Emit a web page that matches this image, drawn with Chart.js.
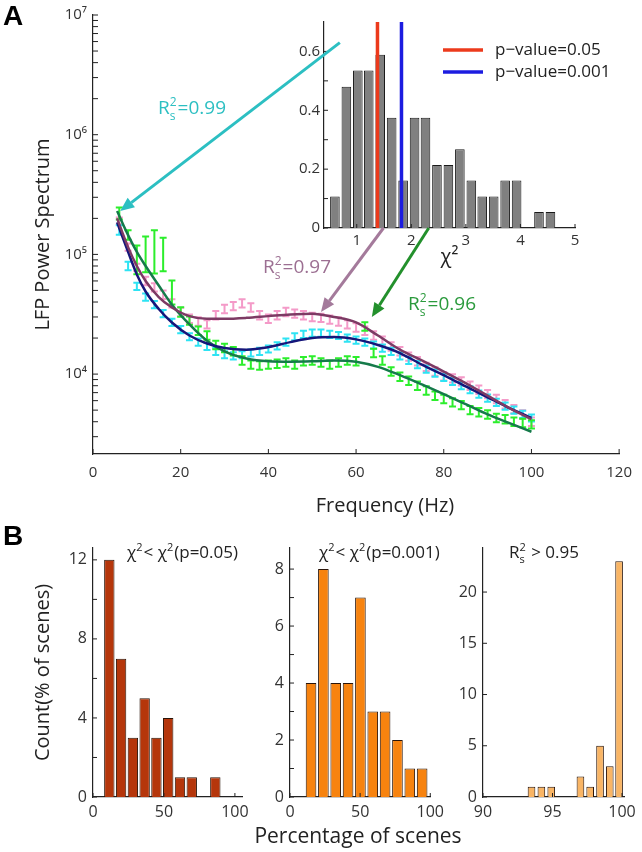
<!DOCTYPE html>
<html>
<head>
<meta charset="utf-8">
<script src="https://cdn.jsdelivr.net/npm/chart.js@4.4.1/dist/chart.umd.min.js"></script>
<style>
html, body { margin: 0; padding: 0; background: #fff; }
#wrap { position: relative; width: 642px; height: 852px; overflow: hidden; }
canvas { position: absolute; }
</style>
</head>
<body>
<div id="wrap">
<canvas id="main" width="642" height="520" style="left:0px;top:0px"></canvas>
<canvas id="inset" width="642" height="520" style="left:0px;top:0px"></canvas>
<canvas id="b1" width="642" height="332" style="left:0px;top:520px"></canvas>
<canvas id="b2" width="200" height="332" style="left:250px;top:520px"></canvas>
<canvas id="b3" width="192" height="332" style="left:450px;top:520px"></canvas>
</div>
<script>
const FONT = "'Open Sans', 'DejaVu Sans', sans-serif";
Chart.defaults.font.family = FONT;
Chart.defaults.color = '#333';
Chart.defaults.plugins.legend.display = false;
Chart.defaults.plugins.tooltip.enabled = false;

// ---- panel A: LFP spectra (power vs frequency) ----
const freqs = [6, 8, 10, 12, 14, 16, 18, 20, 22, 24, 26, 28, 30, 32, 34, 36, 38, 40, 42, 44, 46, 48, 50, 52,
  54, 56, 58, 60, 62, 64, 66, 68, 70, 72, 74, 76, 78, 80, 82, 84, 86, 88, 90, 92, 94, 96, 98, 100];
const pinkPower = [1.9e5, 1.15e5, 7.8e4, 6.0e4, 5.3e4, 4.6e4, 3.9e4, 3.3e4, 2.9e4, 2.75e4, 2.6e4, 3.1e4,
  3.5e4, 3.7e4, 3.9e4, 3.6e4, 3.1e4, 2.9e4, 3.1e4, 3.3e4, 3.2e4, 3.1e4, 3.0e4, 2.95e4,
  2.85e4, 2.75e4, 2.6e4, 2.45e4, 2.3e4, 2.1e4, 1.9e4, 1.7e4, 1.55e4, 1.4e4, 1.28e4, 1.15e4,
  1.05e4, 9.6e3, 9.2e3, 8.7e3, 8.0e3, 7.4e3, 6.8e3, 6.2e3, 5.6e3, 5.1e3, 4.6e3, 4.0e3];
const cyanPower = [1.6e5, 8.0e4, 5.4e4, 4.4e4, 3.8e4, 3.2e4, 2.7e4, 2.35e4, 2.05e4, 1.85e4, 1.7e4, 1.55e4,
  1.45e4, 1.42e4, 1.45e4, 1.5e4, 1.55e4, 1.62e4, 1.72e4, 1.85e4, 2.05e4, 2.15e4, 2.2e4, 2.2e4,
  2.15e4, 2.1e4, 2.0e4, 1.92e4, 1.85e4, 1.75e4, 1.65e4, 1.55e4, 1.42e4, 1.3e4, 1.2e4, 1.1e4,
  1.02e4, 9.4e3, 8.7e3, 8.0e3, 7.4e3, 6.8e3, 6.3e3, 5.8e3, 5.4e3, 5.0e3, 4.6e3, 4.3e3];
const greenPower = [2.2e5, 1.45e5, 9.0e4, 1.0e5, 1.05e5, 1.0e5, 4.8e4, 3.3e4, 2.8e4, 2.3e4, 2.1e4, 1.75e4,
  1.65e4, 1.55e4, 1.3e4, 1.2e4, 1.18e4, 1.2e4, 1.22e4, 1.25e4, 1.2e4, 1.28e4, 1.3e4, 1.25e4,
  1.2e4, 1.25e4, 1.3e4, 1.28e4, 2.5e4, 1.5e4, 1.3e4, 1.05e4, 9.5e3, 8.8e3, 8.0e3, 7.3e3,
  6.6e3, 6.2e3, 5.8e3, 5.5e3, 5.0e3, 4.8e3, 4.6e3, 4.3e3, 4.2e3, 4.0e3, 3.9e3, 3.8e3];
// half height of the error bars, in decades
const pinkErr = [0.03, 0.03, 0.03, 0.035, 0.035, 0.035, 0.035, 0.035, 0.035, 0.035, 0.035, 0.035,
  0.035, 0.035, 0.035, 0.035, 0.035, 0.035, 0.035, 0.035, 0.035, 0.035, 0.035, 0.035,
  0.035, 0.035, 0.035, 0.035, 0.035, 0.035, 0.035, 0.035, 0.035, 0.035, 0.035, 0.035,
  0.035, 0.035, 0.035, 0.035, 0.035, 0.035, 0.035, 0.035, 0.035, 0.035, 0.035, 0.035];
const cyanErr = [0.04, 0.035, 0.03, 0.03, 0.03, 0.03, 0.03, 0.03, 0.03, 0.03, 0.03, 0.03,
  0.03, 0.03, 0.03, 0.03, 0.03, 0.03, 0.03, 0.03, 0.03, 0.03, 0.03, 0.03,
  0.03, 0.03, 0.03, 0.03, 0.03, 0.03, 0.03, 0.03, 0.03, 0.03, 0.03, 0.03,
  0.03, 0.03, 0.03, 0.03, 0.03, 0.03, 0.03, 0.03, 0.03, 0.03, 0.03, 0.03];
const greenErr = [0.05, 0.04, 0.12, 0.15, 0.18, 0.14, 0.1, 0.04, 0.035, 0.035, 0.035, 0.035,
  0.035, 0.035, 0.035, 0.035, 0.035, 0.035, 0.035, 0.035, 0.035, 0.035, 0.035, 0.035,
  0.035, 0.035, 0.035, 0.035, 0.035, 0.035, 0.035, 0.035, 0.035, 0.035, 0.035, 0.035,
  0.035, 0.035, 0.035, 0.035, 0.035, 0.035, 0.035, 0.035, 0.035, 0.035, 0.035, 0.035];
// fitted curves
const fitFreqs = [5.5, 8, 10, 12, 15, 18, 22, 26, 30, 35, 40, 45, 50, 55, 60, 65, 70, 75, 80, 85, 90, 95, 100];
const pinkFit = [2.0e5, 1.15e5, 8.0e4, 6.0e4, 4.4e4, 3.6e4, 3.05e4, 2.9e4, 2.9e4, 2.95e4, 3.05e4, 3.15e4,
  3.2e4, 3.0e4, 2.7e4, 2.1e4, 1.6e4, 1.3e4, 1.05e4, 8.4e3, 6.6e3, 5.2e3, 4.2e3];
const cyanFit = [1.85e5, 1.05e5, 6.8e4, 4.9e4, 3.5e4, 2.7e4, 2.1e4, 1.8e4, 1.65e4, 1.6e4, 1.68e4, 1.85e4,
  2.0e4, 2.04e4, 1.95e4, 1.75e4, 1.5e4, 1.2e4, 9.8e3, 7.9e3, 6.4e3, 5.2e3, 4.3e3];
const greenFit = [2.3e5, 1.45e5, 1.05e5, 8.0e4, 5.5e4, 3.8e4, 2.6e4, 1.9e4, 1.55e4, 1.35e4, 1.28e4, 1.27e4,
  1.28e4, 1.3e4, 1.27e4, 1.15e4, 9.8e3, 8.2e3, 6.8e3, 5.6e3, 4.6e3, 3.9e3, 3.3e3];
const freqTicks = [0, 20, 40, 60, 80, 100, 120];
const powerTicks = [1e4, 1e5, 1e6, 1e7];
const powerTickLabels = ['10\u2074', '10\u2075', '10\u2076', '10\u2077'];

// ---- inset: chi-square histogram ----
const chiBins = [0.60, 0.81, 1.02, 1.22, 1.43, 1.64, 1.85, 2.06, 2.26, 2.47, 2.68, 2.89, 3.10, 3.30,
  3.51, 3.72, 3.93, 4.14, 4.34, 4.55];
const chiDensity = [0.107, 0.48, 0.535, 0.535, 0.589, 0.375, 0.161, 0.375, 0.375, 0.214, 0.214, 0.268,
  0.161, 0.107, 0.107, 0.161, 0.161, 0, 0.054, 0.054];
const chiCrit05 = 1.38;
const chiCrit001 = 1.82;
const chiTicks = [1, 2, 3, 4, 5];
const densityTicks = [0, 0.1, 0.2, 0.3, 0.4, 0.5, 0.6];
const densityLabels = ['0', '', '0.2', '', '0.4', '', '0.6'];

// arrows: tail on the inset (chi2, density), tip on the spectrum (Hz, power)
const arrowTails = [[0.69, 0.63], [1.49, 0], [2.32, 0]];
const arrowTips = [[6.2, 2.3e5], [52, 3.3e4], [63.6, 3.0e4]];
const arrowColors = ['#2cbfc2', '#a47a9b', '#23902c'];
const fitR2 = ['0.99', '0.97', '0.96'];

// ---- panel B ----
const pct05Bins = [11.5, 19.8, 28.1, 36.4, 44.7, 53.0, 61.3, 69.6, 77.9, 86.2];
const pct05Counts = [12, 7, 3, 5, 3, 4, 1, 1, 0, 1];
const pct001Bins = [15.0, 23.8, 32.6, 41.4, 50.2, 59.0, 67.8, 76.6, 85.4, 94.2];
const pct001Counts = [4, 8, 4, 4, 7, 3, 3, 2, 1, 1];
const r2Bins = [93.49, 94.20, 94.91, 95.60, 96.30, 97.01, 97.71, 98.42, 99.12, 99.79];
const r2Counts = [1, 1, 1, 0, 0, 2, 1, 5, 3, 23];

function drawRich(ctx, parts, x, y, size, color) {
  ctx.save();
  ctx.fillStyle = color;
  ctx.textAlign = 'left';
  ctx.textBaseline = 'alphabetic';
  let cx = x;
  parts.forEach(p => {
    if (typeof p === 'string') {
      ctx.font = size + 'px ' + FONT;
      ctx.fillText(p, cx, y);
      cx += ctx.measureText(p).width;
    } else {
      ctx.font = Math.round(size * 0.62) + 'px ' + FONT;
      let w = 0;
      if (p.sup) { ctx.fillText(p.sup, cx, y - size * 0.42); w = ctx.measureText(p.sup).width; }
      if (p.sub) { ctx.fillText(p.sub, cx, y + size * 0.32); w = Math.max(w, ctx.measureText(p.sub).width); }
      cx += w + 1;
    }
  });
  ctx.restore();
}

function drawArrow(ctx, x1, y1, x2, y2, color) {
  const ang = Math.atan2(y2 - y1, x2 - x1), head = 14, hw = 6;
  const bx = x2 - head * Math.cos(ang), by = y2 - head * Math.sin(ang);
  ctx.strokeStyle = color;
  ctx.fillStyle = color;
  ctx.lineWidth = 3;
  ctx.beginPath();
  ctx.moveTo(x1, y1);
  ctx.lineTo(bx, by);
  ctx.stroke();
  ctx.beginPath();
  ctx.moveTo(x2, y2);
  ctx.lineTo(bx + hw * Math.sin(ang), by - hw * Math.cos(ang));
  ctx.lineTo(bx - hw * Math.sin(ang), by + hw * Math.cos(ang));
  ctx.closePath();
  ctx.fill();
}

// MATLAB style ticks pointing into the axes
const inTicks = {
  id: 'inTicks',
  afterDraw(chart, args, opts) {
    const ctx = chart.ctx, a = chart.chartArea;
    ctx.save();
    ctx.strokeStyle = '#222';
    ctx.lineWidth = 1;
    Object.values(chart.scales).forEach(s => {
      const len = opts[s.id];
      if (!len) return;
      s.ticks.forEach(t => {
        const p = s.getPixelForValue(t.value);
        ctx.beginPath();
        if (s.isHorizontal()) { ctx.moveTo(p, a.bottom); ctx.lineTo(p, a.bottom - len); }
        else { ctx.moveTo(a.left, p); ctx.lineTo(a.left + len, p); }
        ctx.stroke();
      });
    });
    ctx.restore();
  }
};

const errorBars = {
  id: 'errorBars',
  afterDatasetDraw(chart, args) {
    const ds = chart.data.datasets[args.index];
    if (!ds.errDex) return;
    const xs = chart.scales.x, ys = chart.scales.y, ctx = chart.ctx;
    ctx.save();
    ctx.strokeStyle = ds.borderColor;
    ctx.lineWidth = 2;
    ds.data.forEach((d, i) => {
      const f = Math.pow(10, ds.errDex[i]);
      const px = xs.getPixelForValue(d.x);
      const lo = ys.getPixelForValue(d.y / f), hi = ys.getPixelForValue(d.y * f);
      ctx.beginPath();
      ctx.moveTo(px, lo); ctx.lineTo(px, hi);
      ctx.moveTo(px - 3.5, lo); ctx.lineTo(px + 3.5, lo);
      ctx.moveTo(px - 3.5, hi); ctx.lineTo(px + 3.5, hi);
      ctx.stroke();
    });
    ctx.restore();
  }
};

const mainText = {
  id: 'mainText',
  afterDraw(chart) {
    const ctx = chart.ctx;
    ctx.save();
    ctx.fillStyle = '#000';
    ctx.font = "bold 28px 'Liberation Sans', Arial, sans-serif";
    ctx.textBaseline = 'alphabetic';
    ctx.fillText('A', 3, 25);
    ctx.fillStyle = '#222';
    ctx.font = '20px ' + FONT;
    ctx.textAlign = 'center';
    ctx.fillText('Frequency (Hz)', 385, 512);
    ctx.restore();
  }
};

function series(xs, ys) { return xs.map((x, i) => ({ x: x, y: ys[i] })); }

const axisBorder = { display: true, color: '#222', width: 1.2 };
const noGrid = { display: false, drawTicks: false };

const mainChart = new Chart(document.getElementById('main'), {
  type: 'line',
  data: {
    datasets: [
      { data: series(fitFreqs, pinkFit), borderColor: '#7d3a64', borderWidth: 2.5, pointRadius: 0, cubicInterpolationMode: 'monotone', order: 0 },
      { data: series(fitFreqs, cyanFit), borderColor: '#16167a', borderWidth: 2.5, pointRadius: 0, cubicInterpolationMode: 'monotone', order: 0 },
      { data: series(fitFreqs, greenFit), borderColor: '#157a4a', borderWidth: 2.5, pointRadius: 0, cubicInterpolationMode: 'monotone', order: 0 },
      { data: series(freqs, pinkPower), errDex: pinkErr, borderColor: '#f49ac8', showLine: false, pointRadius: 0, order: 3 },
      { data: series(freqs, cyanPower), errDex: cyanErr, borderColor: '#2ee3f3', showLine: false, pointRadius: 0, order: 2 },
      { data: series(freqs, greenPower), errDex: greenErr, borderColor: '#2cee2c', showLine: false, pointRadius: 0, order: 1 }
    ]
  },
  options: {
    responsive: false,
    animation: false,
    layout: { padding: { left: 28, top: 15, right: 14, bottom: 0 } },
    scales: {
      x: {
        type: 'linear', min: 0, max: 120,
        afterBuildTicks: s => { s.ticks = freqTicks.map(v => ({ value: v })); },
        afterFit: s => { s.height = 66; },
        grid: noGrid, border: axisBorder,
        ticks: { padding: 10, autoSkip: false, maxRotation: 0, font: { size: 15 }, color: '#333' }
      },
      y: {
        type: 'logarithmic', min: 2150, max: 1e7,
        afterBuildTicks: s => {
          const t = [];
          for (let e = 3; e <= 6; e++) for (let m = 1; m <= 9; m++) { const v = m * Math.pow(10, e); if (v >= 2150) t.push({ value: v }); }
          t.push({ value: 1e7 });
          s.ticks = t;
        },
        afterFit: s => { s.width = 65; },
        grid: noGrid, border: axisBorder,
        ticks: {
          padding: 6, autoSkip: false, font: { size: 15 }, color: '#333',
          callback: v => { const k = powerTicks.indexOf(v); return k >= 0 ? powerTickLabels[k] : ''; }
        },
        title: { display: true, text: 'LFP Power Spectrum', font: { size: 20 }, color: '#222', padding: { top: 3, bottom: 0 } }
      }
    },
    plugins: { inTicks: { x: 5, y: 5 } }
  },
  plugins: [errorBars, inTicks, mainText]
});

const insetDecor = {
  id: 'insetDecor',
  afterDraw(chart) {
    const ctx = chart.ctx, a = chart.chartArea;
    ctx.save();
    // legend
    ctx.lineWidth = 3.5;
    ctx.strokeStyle = '#ec3a1c';
    ctx.beginPath(); ctx.moveTo(a.left + 119, a.top + 28); ctx.lineTo(a.left + 159, a.top + 28); ctx.stroke();
    ctx.strokeStyle = '#1c1ce0';
    ctx.beginPath(); ctx.moveTo(a.left + 119, a.top + 50); ctx.lineTo(a.left + 159, a.top + 50); ctx.stroke();
    ctx.fillStyle = '#222';
    ctx.font = '17px ' + FONT;
    ctx.textBaseline = 'middle';
    ctx.fillText('p\u2212value=0.05', a.left + 171, a.top + 28);
    ctx.fillText('p\u2212value=0.001', a.left + 171, a.top + 50);
    // arrows from the inset to the spectra
    const mx = mainChart.scales.x, my = mainChart.scales.y;
    const ix = chart.scales.x, iy = chart.scales.y;
    arrowTails.forEach((t, i) => {
      drawArrow(ctx, ix.getPixelForValue(t[0]), iy.getPixelForValue(t[1]),
        mx.getPixelForValue(arrowTips[i][0]), my.getPixelForValue(arrowTips[i][1]), arrowColors[i]);
    });
    ctx.restore();
    const textPos = [[158, 114], [263, 273], [408, 310]];
    const textCol = ['#2cbfc2', '#9c6f92', '#2a9a3c'];
    fitR2.forEach((r, i) => {
      drawRich(ctx, ['R', { sup: '2', sub: 's' }, '=' + r], textPos[i][0], textPos[i][1], 19, textCol[i]);
    });
  }
};

new Chart(document.getElementById('inset'), {
  type: 'bar',
  data: {
    datasets: [
      { type: 'line', data: [{ x: chiCrit05, y: 0 }, { x: chiCrit05, y: 0.7 }], borderColor: '#ec3a1c', borderWidth: 3.5, pointRadius: 0, order: 0 },
      { type: 'line', data: [{ x: chiCrit001, y: 0 }, { x: chiCrit001, y: 0.7 }], borderColor: '#1c1ce0', borderWidth: 3.5, pointRadius: 0, order: 0 },
      { data: series(chiBins, chiDensity), backgroundColor: '#808080', borderColor: '#1a1a1a', borderWidth: 1, barPercentage: 0.88, categoryPercentage: 1, order: 1 }
    ]
  },
  options: {
    responsive: false,
    animation: false,
    layout: { padding: { left: 284, top: 22, right: 67, bottom: 248 } },
    scales: {
      x: {
        type: 'linear', min: 0.4, max: 5, offset: false,
        afterBuildTicks: s => { s.ticks = chiTicks.map(v => ({ value: v })); },
        afterFit: s => { s.height = 44; },
        grid: { display: false, drawTicks: false, offset: false }, border: axisBorder,
        ticks: { padding: 4, autoSkip: false, maxRotation: 0, font: { size: 15 }, color: '#333' },
        title: { display: true, text: '\u03c7\u00b2', font: { size: 20 }, color: '#222', padding: { top: 0, bottom: 3 } }
      },
      y: {
        min: 0, max: 0.7,
        afterBuildTicks: s => { s.ticks = densityTicks.map(v => ({ value: v })); },
        afterFit: s => { s.width = 40; },
        grid: noGrid, border: axisBorder,
        ticks: { padding: 4, autoSkip: false, font: { size: 15 }, color: '#333', callback: (v, i) => densityLabels[i] }
      }
    },
    plugins: { inTicks: { x: 4, y: 4 } }
  },
  plugins: [inTicks, insetDecor]
});

function makeHist(id, bins, counts, color, cfg) {
  const deco = {
    id: 'histDeco',
    afterDraw(chart) {
      const ctx = chart.ctx;
      drawRich(ctx, cfg.title, cfg.titleX, 38, 17, '#222');
      if (cfg.panel) {
        ctx.save();
        ctx.fillStyle = '#000';
        ctx.font = "bold 28px 'Liberation Sans', Arial, sans-serif";
        ctx.fillText(cfg.panel, 3, 25);
        ctx.restore();
      }
      if (cfg.xTitle) {
        ctx.save();
        ctx.fillStyle = '#222';
        ctx.font = '21px ' + FONT;
        ctx.textAlign = 'center';
        ctx.fillText(cfg.xTitle, cfg.xTitleX, 323);
        ctx.restore();
      }
    }
  };
  return new Chart(document.getElementById(id), {
    type: 'bar',
    data: {
      datasets: [{ data: series(bins, counts), backgroundColor: color, borderColor: '#2a1408', borderWidth: 1,
        barPercentage: cfg.barPct, categoryPercentage: 1 }]
    },
    options: {
      responsive: false,
      animation: false,
      layout: { padding: { left: cfg.padLeft, top: 28, right: cfg.padRight, bottom: 0 } },
      scales: {
        x: {
          type: 'linear', min: cfg.xMin, max: cfg.xMax, offset: false,
          afterBuildTicks: s => { s.ticks = cfg.xTicks.map(v => ({ value: v })); },
          afterFit: s => { s.height = 55; },
          grid: { display: false, drawTicks: false, offset: false }, border: axisBorder,
          ticks: { padding: 6, autoSkip: false, maxRotation: 0, font: { size: 16 }, color: '#333' }
        },
        y: {
          min: 0, max: cfg.yMax,
          afterBuildTicks: s => { s.ticks = cfg.yTicks.map(v => ({ value: v })); },
          afterFit: s => { s.width = cfg.yWidth; },
          grid: noGrid, border: axisBorder,
          ticks: { padding: 6, autoSkip: false, font: { size: 16 }, color: '#333', callback: (v, i) => cfg.yLabels[i] },
          title: { display: !!cfg.yTitle, text: cfg.yTitle || '', font: { size: 20 }, color: '#222', padding: { top: 3, bottom: 0 } }
        }
      },
      plugins: { inTicks: { x: 4, y: 4 } }
    },
    plugins: [inTicks, deco]
  });
}

// B1 canvas spans the whole width so the shared x title can be centred under the middle panel
makeHist('b1', pct05Bins, pct05Counts, '#b5360b', {
  padLeft: 28, padRight: 400, yWidth: 65, xMin: 0, xMax: 105, yMax: 12.6,
  xTicks: [0, 50, 100], yTicks: [0, 2, 4, 6, 8, 10, 12], yLabels: ['0', '', '4', '', '8', '', '12'],
  yTitle: 'Count(% of scenes)', barPct: 0.88, panel: 'B',
  xTitle: 'Percentage of scenes', xTitleX: 358,
  title: ['\u03c7', { sup: '2' }, '< \u03c7', { sup: '2' }, '(p=0.05)'], titleX: 127
});
makeHist('b2', pct001Bins, pct001Counts, '#f7830f', {
  padLeft: 0, padRight: 17, yWidth: 40, xMin: 0, xMax: 100, yMax: 8.74,
  xTicks: [0, 50, 100], yTicks: [0, 1, 2, 3, 4, 5, 6, 7, 8], yLabels: ['0', '', '2', '', '4', '', '6', '', '8'],
  barPct: 0.86,
  title: ['\u03c7', { sup: '2' }, '< \u03c7', { sup: '2' }, '(p=0.001)'], titleX: 69
});
makeHist('b3', r2Bins, r2Counts, '#f9b565', {
  padLeft: 0, padRight: 14, yWidth: 33, xMin: 90, xMax: 100.2, yMax: 24.3,
  xTicks: [90, 95, 100], yTicks: [0, 5, 10, 15, 20], yLabels: ['0', '5', '10', '15', '20'],
  barPct: 0.82,
  title: ['R', { sup: '2', sub: 's' }, ' > 0.95'], titleX: 59
});
</script>
</body>
</html>
